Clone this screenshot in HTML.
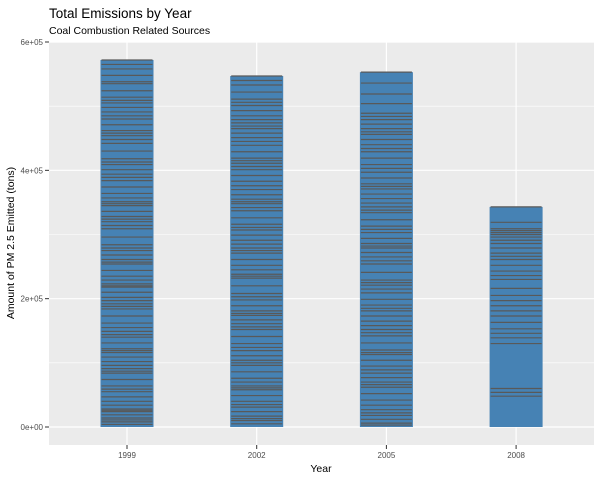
<!DOCTYPE html>
<html><head><meta charset="utf-8"><style>
body{margin:0;background:#fff;}
svg{display:block;font-family:"Liberation Sans",Arial,sans-serif;}
</style></head><body>
<svg id="c" width="600" height="480">
<text x="49" y="18" font-size="13.5" fill="#000">Total Emissions by Year</text>
<text x="49" y="34" font-size="10.5" fill="#000">Coal Combustion Related Sources</text>
<rect x="49" y="42" width="545" height="403" fill="#ebebeb"/>
<g id="grid"></g><g id="bars"></g><g id="axes"></g>
<text x="321" y="472" font-size="10.5" text-anchor="middle">Year</text>
<text transform="translate(14,243) rotate(-90)" font-size="10.5" text-anchor="middle">Amount of PM 2.5 Emitted (tons)</text>
</svg>
<script>
const categories=["1999","2002","2005","2008"];
const seg1999=[4,4,3,3,5,5,2,2,6,6,7,8,4,5,10,10,3,4,5,6,7,7,3,3,9,9,4,5,6,7,11,11,4,4,5,5,8,8,2,3,6,6,9,10,3,4,7,7,4,5,12,13,5,6,4,4,8,9,3,3,6,7,10,10,5,5,7,8,4,5,12,12,6,6,4,4,9,9,5,6,7,7,4,5,10,11,3,10,10,7,7];
const seg2002=[5,5,3,4,7,7,4,5,9,9,3,3,6,6,10,10,4,4,7,8,5,6,11,11,4,5,6,7,3,4,8,9,5,5,12,12,3,3,7,7,9,10,4,4,6,6,8,8,4,5,10,11,5,6,3,4,7,8,6,7,9,9,5,5,4,4,10,10,6,6,7,7,4,5,5,6,8,8,5,5,11,11,7,7];
const seg2005=[3,3,6,6,4,5,7,8,10,10,4,4,7,7,5,6,9,9,3,4,11,11,5,5,6,7,8,8,4,5,9,10,6,6,4,4,12,13,5,6,7,7,3,4,8,9,5,5,10,11,4,5,6,7,7,8,4,4,9,9,6,6,10,10,5,6,8,8,4,5,7,7,5,5,15,15,17,17];
const seg2008=[48,6,6,70,9,7,7,10,10,8,8,8,8,11,14,6,7,9,9,5,5,8,7,5,5,4,3,3,3,10,24];
const segments=[seg1999,seg2002,seg2005,seg2008];
const yTicks=[0,200,400,600];
const yTickLabels=["0e+00","2e+05","4e+05","6e+05"];
const yMinor=[100,300,500];
const NS="http://www.w3.org/2000/svg";
const y=v=>427-v*385/600;
const x=i=>127+i*129.7;
const bw=53;
function mk(t,a,p){const e=document.createElementNS(NS,t);for(const k in a)e.setAttribute(k,a[k]);p.appendChild(e);return e;}
const grid=document.getElementById('grid'),bars=document.getElementById('bars'),axes=document.getElementById('axes');
yMinor.forEach(v=>{const l=mk('line',{x1:49,x2:594,y1:y(v),y2:y(v),stroke:'#fff','stroke-width':0.6},grid);

});
yTicks.forEach((v,i)=>{const l=mk('line',{x1:49,x2:594,y1:y(v),y2:y(v),stroke:'#fff','stroke-width':1.2},grid);


const t=mk('line',{x1:45,x2:49,y1:y(v),y2:y(v),stroke:'#333','stroke-width':1},axes);


const tx=mk('text',{x:43,y:y(v)+3,'font-size':8,'text-anchor':'end',fill:'#4d4d4d'},axes);
tx.textContent=yTickLabels[i];

});
categories.forEach((c,i)=>{const l=mk('line',{x1:x(i),x2:x(i),y1:42,y2:445,stroke:'#fff','stroke-width':1.2},grid);


const t=mk('line',{x1:x(i),x2:x(i),y1:445,y2:449,stroke:'#333','stroke-width':1},axes);


const tx=mk('text',{x:x(i),y:458,'font-size':8,'text-anchor':'middle',fill:'#4d4d4d'},axes);
tx.textContent=c;


const segs=segments[i];const total=segs.reduce((a,b)=>a+b,0);
const r=mk('rect',{x:x(i)-bw/2,y:y(total),width:bw,height:y(0)-y(total),fill:'#4682b4'},bars);


let cum=0;segs.forEach(s=>{cum+=s;const sl=mk('line',{x1:x(i)-bw/2+1,x2:x(i)+bw/2-1,y1:y(cum),y2:y(cum),stroke:'#595959','stroke-width':1.2},bars);

});
});
</script>
</body></html>
